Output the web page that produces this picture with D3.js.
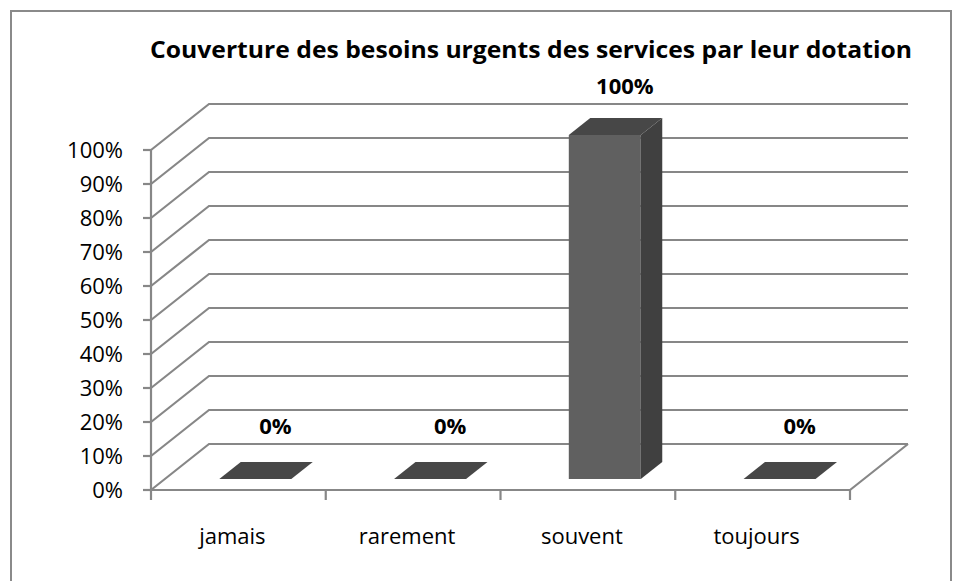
<!DOCTYPE html>
<html>
<head>
<meta charset="utf-8">
<script src="https://cdn.jsdelivr.net/npm/d3@7"></script>
<style>
  body { margin: 0; background: #fff; }
  text { font-family: "Open Sans", "Liberation Sans", sans-serif; }
</style>
</head>
<body>
<div id="chart"></div>
<script>
var categories = ["jamais", "rarement", "souvent", "toujours"];
var values = [0, 0, 1, 0];
var yTicks = [0, 0.1, 0.2, 0.3, 0.4, 0.5, 0.6, 0.7, 0.8, 0.9, 1];
var title = "Couverture des besoins urgents des services par leur dotation";

var width = 962, height = 581;

// front plane of the 3d box and the depth vector to the back wall
var plotLeft = 151, plotRight = 850, plotBottom = 490, plotTop = 150;
var depthX = 58, depthY = -46;

var svg = d3.select("#chart").append("svg")
    .attr("width", width)
    .attr("height", height);

svg.append("rect")
    .attr("width", width).attr("height", height)
    .attr("fill", "#fff");

// chart frame
svg.append("rect")
    .attr("x", 11).attr("y", 11)
    .attr("width", 940).attr("height", 600)
    .attr("fill", "none")
    .attr("stroke", "#8a8a8a")
    .attr("stroke-width", 2);

var x = d3.scaleBand()
    .domain(categories)
    .range([plotLeft, plotRight]);

var y = d3.scaleLinear()
    .domain([0, 1])
    .range([plotBottom, plotTop]);

// bars look a bit taller than the wall scale (perspective)
var yBar = d3.scaleLinear()
    .domain([0, 1])
    .range([0, 344]);

var grid = svg.append("g")
    .attr("stroke", "#878787")
    .attr("stroke-width", 2.2)
    .attr("fill", "none");

// back wall gridlines + left wall diagonals
yTicks.forEach(function (t) {
    var yf = y(t);
    grid.append("path")
        .attr("d", "M" + plotLeft + "," + yf +
            "L" + (plotLeft + depthX) + "," + (yf + depthY) +
            "L" + (plotRight + depthX) + "," + (yf + depthY));
});

// floor front edge and right edge
grid.append("path")
    .attr("d", "M" + plotLeft + "," + plotBottom + "L" + plotRight + "," + plotBottom +
        "L" + (plotRight + depthX) + "," + (plotBottom + depthY));

// value axis
grid.append("line")
    .attr("x1", plotLeft).attr("x2", plotLeft)
    .attr("y1", plotTop).attr("y2", plotBottom + 10);

grid.selectAll(".ytick")
    .data(yTicks)
    .enter().append("line")
    .attr("x1", plotLeft - 8).attr("x2", plotLeft)
    .attr("y1", function (d) { return y(d); })
    .attr("y2", function (d) { return y(d); });

// category ticks
var catEdges = categories.map(function (c) { return x(c) + x.bandwidth(); });
grid.selectAll(".xtick")
    .data(catEdges)
    .enter().append("line")
    .attr("x1", function (d) { return d; })
    .attr("x2", function (d) { return d; })
    .attr("y1", plotBottom).attr("y2", plotBottom + 10);

var fmt = d3.format(".0%");

svg.append("g").selectAll("text")
    .data(yTicks)
    .enter().append("text")
    .attr("x", plotLeft - 28)
    .attr("y", function (d) { return y(d); })
    .attr("dy", "0.36em")
    .attr("text-anchor", "end")
    .attr("font-size", 22)
    .attr("fill", "#000")
    .text(fmt);

svg.append("g").selectAll("text")
    .data(categories)
    .enter().append("text")
    .attr("x", function (d) { return x(d) + x.bandwidth() / 2 - 6; })
    .attr("y", 536)
    .attr("dy", "0.36em")
    .attr("text-anchor", "middle")
    .attr("font-size", 22)
    .attr("fill", "#000")
    .text(function (d) { return d; });

// bars
var z0 = 0.24, z1 = 0.61, halfW = 36;
var bars = svg.append("g");

categories.forEach(function (c, i) {
    var cx = x(c) + x.bandwidth() / 2 + 3;
    var xl = cx - halfW + z0 * depthX, xr = cx + halfW + z0 * depthX;
    var yb = plotBottom + z0 * depthY;
    var yt = yb - yBar(values[i]);
    var ddx = (z1 - z0) * depthX, ddy = (z1 - z0) * depthY;

    if (values[i] > 0) {
        bars.append("path")
            .attr("d", "M" + xl + "," + yb + "L" + xr + "," + yb + "L" + xr + "," + yt + "L" + xl + "," + yt + "Z")
            .attr("fill", "#606060");
        bars.append("path")
            .attr("d", "M" + xr + "," + yb + "L" + (xr + ddx) + "," + (yb + ddy) +
                "L" + (xr + ddx) + "," + (yt + ddy) + "L" + xr + "," + yt + "Z")
            .attr("fill", "#404040");
    }
    bars.append("path")
        .attr("d", "M" + xl + "," + yt + "L" + xr + "," + yt + "L" + (xr + ddx) + "," + (yt + ddy) +
            "L" + (xl + ddx) + "," + (yt + ddy) + "Z")
        .attr("fill", "#474747");
});

// data labels
svg.append("g").selectAll("text")
    .data(values)
    .enter().append("text")
    .attr("x", function (d, i) { return x(categories[i]) + x.bandwidth() / 2 + 37; })
    .attr("y", function (d) { return y(d) + depthY - 18; })
    .attr("dy", "0.36em")
    .attr("text-anchor", "middle")
    .attr("font-size", 22)
    .attr("font-weight", "bold")
    .attr("fill", "#000")
    .text(fmt);

svg.append("text")
    .attr("x", 531)
    .attr("y", 50)
    .attr("dy", "0.36em")
    .attr("text-anchor", "middle")
    .attr("font-size", 23)
    .attr("font-weight", "bold")
    .attr("textLength", 762)
    .attr("lengthAdjust", "spacingAndGlyphs")
    .attr("fill", "#000")
    .text(title);
</script>
</body>
</html>
